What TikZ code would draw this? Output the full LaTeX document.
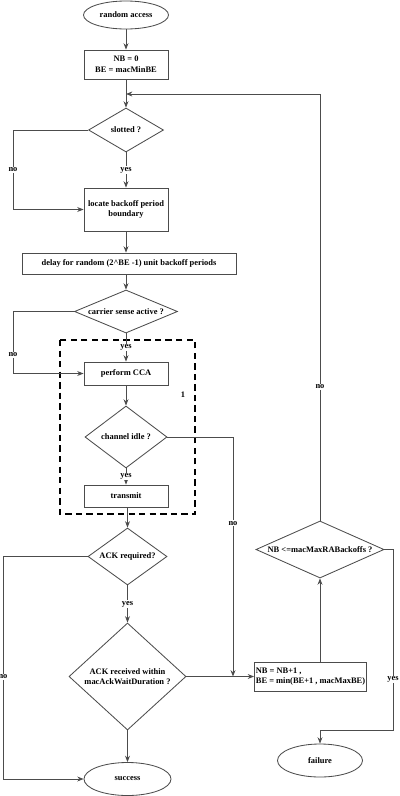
\documentclass[tikz,border=0pt]{standalone}
\usepackage{fontspec}
\setmainfont{Liberation Serif}
\usetikzlibrary{arrows.meta,shapes.geometric,calc}

\tikzset{
	flowtext/.style={font=\bfseries\fontsize{6}{7.5}\selectfont},
	flowbox/.style={flowtext, draw=black!70, line width=0.6pt, rectangle, inner sep=1pt, align=center},
	flowend/.style={flowtext, draw=black!70, line width=0.6pt, ellipse, inner sep=0pt},
	flowdecision/.style={flowtext, draw=black!70, line width=0.6pt, diamond, inner sep=0pt, align=center},
	flowarrow/.style={draw=black!70, line width=0.6pt, -{Stealth[length=4.5pt,width=3.5pt]}},
	flowline/.style={draw=black!70, line width=0.6pt},
	flowlabel/.style={flowtext, fill=white, inner sep=0.6pt},
}

\begin{document}
\begin{tikzpicture}[x=0.025cm, y=-0.025cm]
		%%%%% START %%%%%
		\useasboundingbox (0, 0) rectangle (400, 796);
		
		\node[flowend, minimum width=2.125cm, minimum height=0.7cm] (start) at (126, 15) {random access};
		\node[flowbox, minimum width=2.1cm, minimum height=0.725cm] (init) at (126, 64.5) {NB = 0\\BE = macMinBE};
		\node[flowdecision, aspect=1.7, minimum width=1.875cm, minimum height=1.1cm] (slotted) at (126, 130) {slotted ?};
		\node[flowbox, minimum width=2.1cm, minimum height=1.075cm] (locate) at (126, 209.5) {locate backoff period\\boundary};
		\node[flowbox, minimum width=5.35cm, minimum height=0.525cm] (delay) at (129, 263.5) {delay for random (2\^{}BE -1) unit backoff periods};
		\node[flowdecision, aspect=2.4, minimum width=2.575cm, minimum height=1.075cm] (carrier) at (126, 311.5) {carrier sense active ?};
		\node[flowbox, minimum width=2.1cm, minimum height=0.575cm] (cca) at (126, 373.5) {perform CCA};
		\node[flowdecision, aspect=1.32, minimum width=2.05cm, minimum height=1.55cm] (idle) at (126, 437) {channel idle ?};
		\node[flowbox, minimum width=2.1cm, minimum height=0.55cm] (transmit) at (126, 496) {transmit};
		\node[flowdecision, aspect=1.39, minimum width=1.975cm, minimum height=1.425cm] (ackreq) at (127.5, 556.5) {ACK required?};
		\node[flowdecision, aspect=1.1, minimum width=2.925cm, minimum height=2.675cm] (ackrec) at (127.5, 676.5) {ACK received within\\macAckWaitDuration ?};
		\node[flowend, minimum width=2.175cm, minimum height=0.825cm] (success) at (127.5, 779) {success};
		\node[flowbox, minimum width=2.575cm, minimum height=0.725cm, align=left] (nbbox) at (310.5, 676.5) {NB = NB+1 ,\\BE = min(BE+1 , macMaxBE)};
		\node[flowdecision, minimum width=3.2cm, minimum height=1.425cm] (nbdia) at (320, 549.5) {\makebox[0pt]{NB <=macMaxRABackoffs ?}};
		\node[flowend, minimum width=2.125cm, minimum height=0.825cm] (failure) at (320, 760.5) {failure};
		
		\draw[black, line width=1.3pt, dash pattern=on 4.5pt off 3pt] (60, 340) rectangle (195, 514);
		\node[flowtext] (one) at (183, 395) {1};
		
		\coordinate (merge) at (126, 94);
		\coordinate (leftA) at (13, 0);
		\coordinate (leftB) at (3, 0);
		\coordinate (midC) at (233, 0);
		\coordinate (rightD) at (393, 730);
		
		\draw[flowarrow] (start) -- (init);
		\draw[flowarrow] (init) -- (slotted);
		\draw[flowarrow] (nbdia.north) |- node[flowlabel, pos=0.157] {no} (merge);
		\draw[flowarrow] (slotted) -- node[flowlabel] {yes} (locate);
		\draw[flowarrow] (slotted.west) -- (slotted.west -| leftA) |- node[flowlabel, pos=0.25] {no} (locate.west);
		\draw[flowarrow] (locate.south) -- (locate.south |- delay.north);
		\draw[flowarrow] (delay.south -| carrier.north) -- (carrier.north);
		\draw[flowarrow] (carrier) -- node[flowlabel] {yes} (cca);
		\draw[flowarrow] (carrier.west) -- (carrier.west -| leftA) |- node[flowlabel, pos=0.35] {no} (cca.west);
		\draw[flowarrow] (cca) -- (idle);
		\draw[flowarrow] (idle) -- node[flowlabel] {yes} (transmit);
		\draw[flowarrow] (idle.east) -| node[flowlabel, pos=0.68] {no} (midC |- nbbox.west);
		\draw[flowarrow] (transmit.south -| ackreq.north) -- (ackreq.north);
		\draw[flowarrow] (ackreq) -- node[flowlabel] {yes} (ackrec);
		\draw[flowarrow] (ackreq.west) -- (ackreq.west -| leftB) |- node[flowlabel, pos=0.27] {no} (success.west);
		\draw[flowarrow] (ackrec) -- (success);
		\draw[flowarrow] (ackrec.east) -- (nbbox.west);
		\draw[flowarrow] (nbbox.north -| nbdia.south) -- (nbdia.south);
		\draw[flowarrow] (nbdia.east) -| node[flowlabel, pos=0.86] {yes} (rightD) -| (failure.north);
		
		%%%%% END %%%%%
	\end{tikzpicture}
\end{document}
